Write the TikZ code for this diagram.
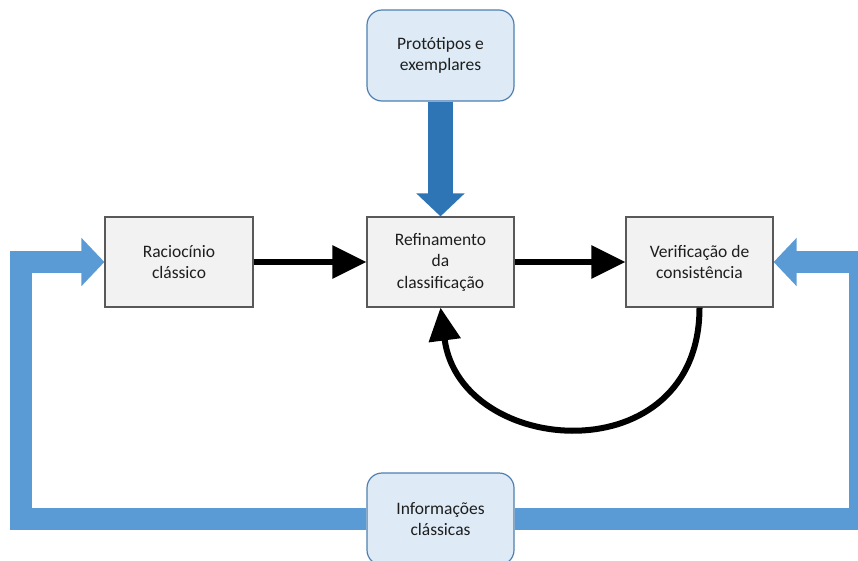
\documentclass[tikz,border=0pt]{standalone}
\usepackage{fontspec}
\setmainfont{Carlito}
\usetikzlibrary{arrows.meta,backgrounds}

\definecolor{boxgray}{HTML}{F2F2F2}
\definecolor{boxline}{HTML}{595959}
\definecolor{softblue}{HTML}{DEEBF7}
\definecolor{softline}{HTML}{4F7FAF}
\definecolor{pipeblue}{HTML}{5B9BD5}
\definecolor{feedblue}{HTML}{2E75B6}
\definecolor{textc}{HTML}{1E1E1E}

\begin{document}
\begin{tikzpicture}[x=1pt,y=-1pt,
  plainbox/.style={draw=boxline, fill=boxgray, line width=1.2pt,
    minimum width=147pt, minimum height=90pt, align=center, text=textc,
    inner sep=0pt, font=\fontsize{17.5}{21.5}\selectfont},
  softbox/.style={plainbox, fill=softblue, draw=softline, rounded corners=15pt,
    minimum height=91pt},
  flow/.style={line width=6pt, draw=black, -{Triangle[length=34pt,width=32pt]}},
  pipe/.style={line width=22pt, draw=pipeblue, line join=miter,
    -{Triangle[length=23pt,width=47pt]}},
  feed/.style={line width=25pt, draw=feedblue, -{Triangle[length=23pt,width=47pt]}}
]
\useasboundingbox (0,0) rectangle (858,560);

% main chain of steps
\node[plainbox, minimum width=148pt] (racio) at (179,262) {Raciocínio\\clássico};
\node[plainbox] (refine) at (440.5,262) {Refinamento\\da\\classificação};
\node[plainbox] (verif) at (699.5,262) {Verificação de\\consistência};

% inputs
\node[softbox] (proto) at (440.5,55.5) {Protótipos e\\exemplares};
\node[softbox, minimum height=92pt] (info) at (440.5,519) {Informações\\clássicas};

% classical information fed back to both ends
\begin{pgfonlayer}{background}
  \draw[pipe] (info.west) -| (20.5,262) -- (racio.west);
  \draw[pipe] (info.east) -| (860,262) -- (verif.east);
\end{pgfonlayer}

% prototypes feeding the refinement
\draw[feed] (proto.south) -- (refine.north);

% flow between steps
\draw[flow] (racio.east) -- (refine.west);
\draw[flow] (refine.east) -- (verif.west);
\draw[line width=6pt, -{Triangle[length=33pt,width=31pt]}]
  (verif.south) .. controls (699.5,475) and (460,458) .. (refine.south);
\end{tikzpicture}
\end{document}
